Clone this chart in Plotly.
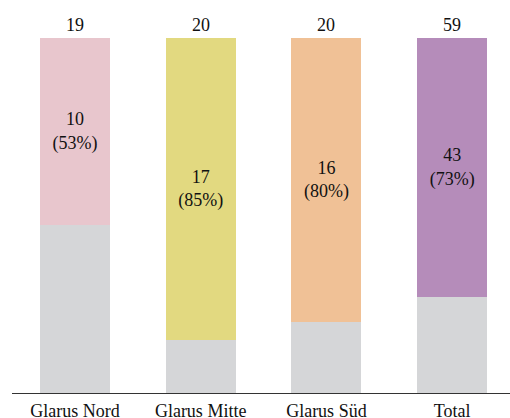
import plotly.graph_objects as go

regions = ["Glarus Nord", "Glarus Mitte", "Glarus Süd", "Total"]
totals = [19, 20, 20, 59]
values = [10, 17, 16, 43]
colors = ["#E8C6CD", "#E2D980", "#F0C196", "#B58CBA"]
rest_color = "#D5D6D8"

shares = [v / t for v, t in zip(values, totals)]
rest = [1 - s for s in shares]
labels = [f"{v}<br>({round(s * 100)}%)" for v, s in zip(values, shares)]

font = dict(family="'Liberation Serif', 'Times New Roman', serif", size=18, color="#111111")

fig = go.Figure()
fig.add_trace(go.Bar(
    x=regions, y=rest, marker=dict(color=rest_color, line=dict(width=0)),
    hoverinfo="skip", showlegend=False,
))
fig.add_trace(go.Bar(
    x=regions, y=shares, marker=dict(color=colors, line=dict(width=0)),
    text=labels, textposition="inside", insidetextanchor="middle",
    textangle=0, textfont=font, showlegend=False,
))

for r, t in zip(regions, totals):
    fig.add_annotation(x=r, y=1, text=str(t), showarrow=False,
                       yanchor="bottom", yshift=1, font=font)

fig.update_layout(
    width=510, height=418, barmode="stack", bargap=0.443,
    margin=dict(l=12, r=0, t=38, b=25, autoexpand=False),
    plot_bgcolor="white", paper_bgcolor="white",
    font=font,
    xaxis=dict(range=[-0.5, 3.46], showline=True, linecolor="#333333", linewidth=1,
               ticks="", showgrid=False, tickfont=font, ticklabelstandoff=1,
               automargin=False),
    yaxis=dict(range=[0, 1], visible=False, showgrid=False, automargin=False),
)

fig.write_html("out.html")
